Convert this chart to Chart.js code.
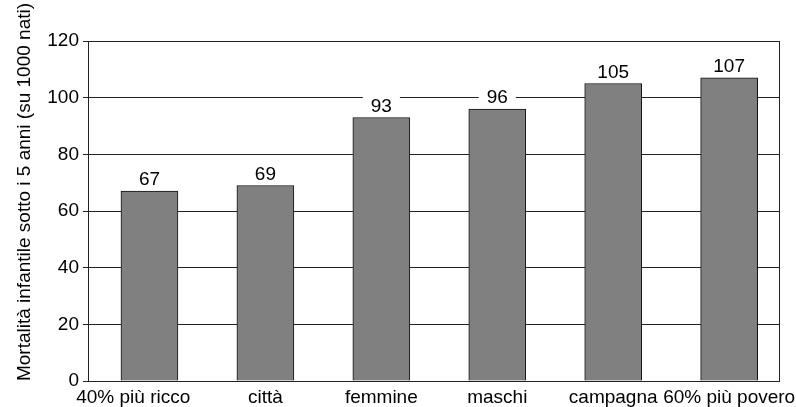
<!DOCTYPE html>
<html>
<head>
<meta charset="utf-8">
<script src="https://cdn.jsdelivr.net/npm/chart.js@4/dist/chart.umd.min.js"></script>
<style>
  html, body { margin: 0; padding: 0; background: #fff; }
  #wrap { width: 796px; height: 407px; }
</style>
</head>
<body>
<div id="wrap"><canvas id="c" width="796" height="407"></canvas></div>
<script>
// Under-5 mortality per 1000 births by group
const categories = ['40% più ricco', 'città', 'femmine', 'maschi', 'campagna', '60% più povero'];
const mortality = [67, 69, 93, 96, 105, 107];
const yTicks = [0, 20, 40, 60, 80, 100, 120];
const yTitle = 'Mortalità infantile sotto i 5 anni (su 1000 nati)';

const FONT = '"Liberation Sans", Arial, Helvetica, sans-serif';

// Value labels on white boxes above each bar
const valueLabels = {
  id: 'valueLabels',
  afterDatasetsDraw(chart) {
    const ctx = chart.ctx;
    const meta = chart.getDatasetMeta(0);
    ctx.save();
    ctx.font = '19px ' + FONT;
    ctx.textAlign = 'center';
    ctx.textBaseline = 'alphabetic';
    meta.data.forEach((bar, i) => {
      const txt = String(mortality[i]);
      const w = ctx.measureText(txt).width;
      const base = bar.y - 6;
      ctx.fillStyle = '#fff';
      ctx.fillRect(bar.x - w / 2 - 8, base - 16, w + 16, 19);
      ctx.fillStyle = '#000';
      ctx.fillText(txt, bar.x, base);
    });
    ctx.restore();
  }
};

// Right frame edge and rotated axis title
const frame = {
  id: 'frame',
  afterDraw(chart) {
    const { ctx, chartArea: a } = chart;
    ctx.save();
    ctx.strokeStyle = '#222';
    ctx.lineWidth = 1;
    ctx.beginPath();
    ctx.moveTo(Math.round(a.right) + 0.5, a.top);
    ctx.lineTo(Math.round(a.right) + 0.5, a.bottom);
    ctx.stroke();
    ctx.translate(25, 192);
    ctx.rotate(-Math.PI / 2);
    ctx.font = '19px ' + FONT;
    ctx.fillStyle = '#000';
    ctx.textAlign = 'center';
    ctx.textBaseline = 'middle';
    ctx.fillText(yTitle, 0, 0);
    ctx.restore();
  }
};

new Chart(document.getElementById('c'), {
  type: 'bar',
  data: {
    datasets: [{
      data: mortality.map((v, i) => ({ x: i, y: v })),
      backgroundColor: '#808080',
      borderColor: '#111',
      borderWidth: 1,
      barThickness: 57
    }]
  },
  options: {
    responsive: false,
    animation: false,
    layout: { padding: { top: 41, right: 17, left: 0, bottom: 0 } },
    plugins: { legend: { display: false }, tooltip: { enabled: false } },
    scales: {
      x: {
        type: 'linear',
        bounds: 'data',
        offset: false,
        min: -0.53,
        max: 5.43,
        grid: { display: false, drawTicks: false, offset: false },
        border: { display: true, color: '#222', width: 1 },
        afterBuildTicks(scale) {
          // first label sits a little left of its bar
          scale.ticks = categories.map((_, i) => ({ value: i === 0 ? -0.14 : i }));
        },
        afterFit(scale) {
          scale.height = 26;
          scale.paddingLeft = 0;
          scale.paddingRight = 0;
        },
        ticks: {
          padding: 5,
          color: '#000',
          font: { family: FONT, size: 19 },
          maxRotation: 0,
          autoSkip: false,
          callback: (v) => categories[Math.round(v)]
        }
      },
      y: {
        min: 0,
        max: 120,
        afterBuildTicks(scale) {
          scale.ticks = yTicks.map(v => ({ value: v }));
        },
        afterFit(scale) { scale.width = 88; },
        grid: { color: '#222', lineWidth: 1, tickLength: 5, drawTicks: true },
        border: { display: true, color: '#222', width: 1 },
        ticks: {
          padding: 4,
          color: '#000',
          font: { family: FONT, size: 19 }
        }
      }
    }
  },
  plugins: [valueLabels, frame]
});
</script>
</body>
</html>
